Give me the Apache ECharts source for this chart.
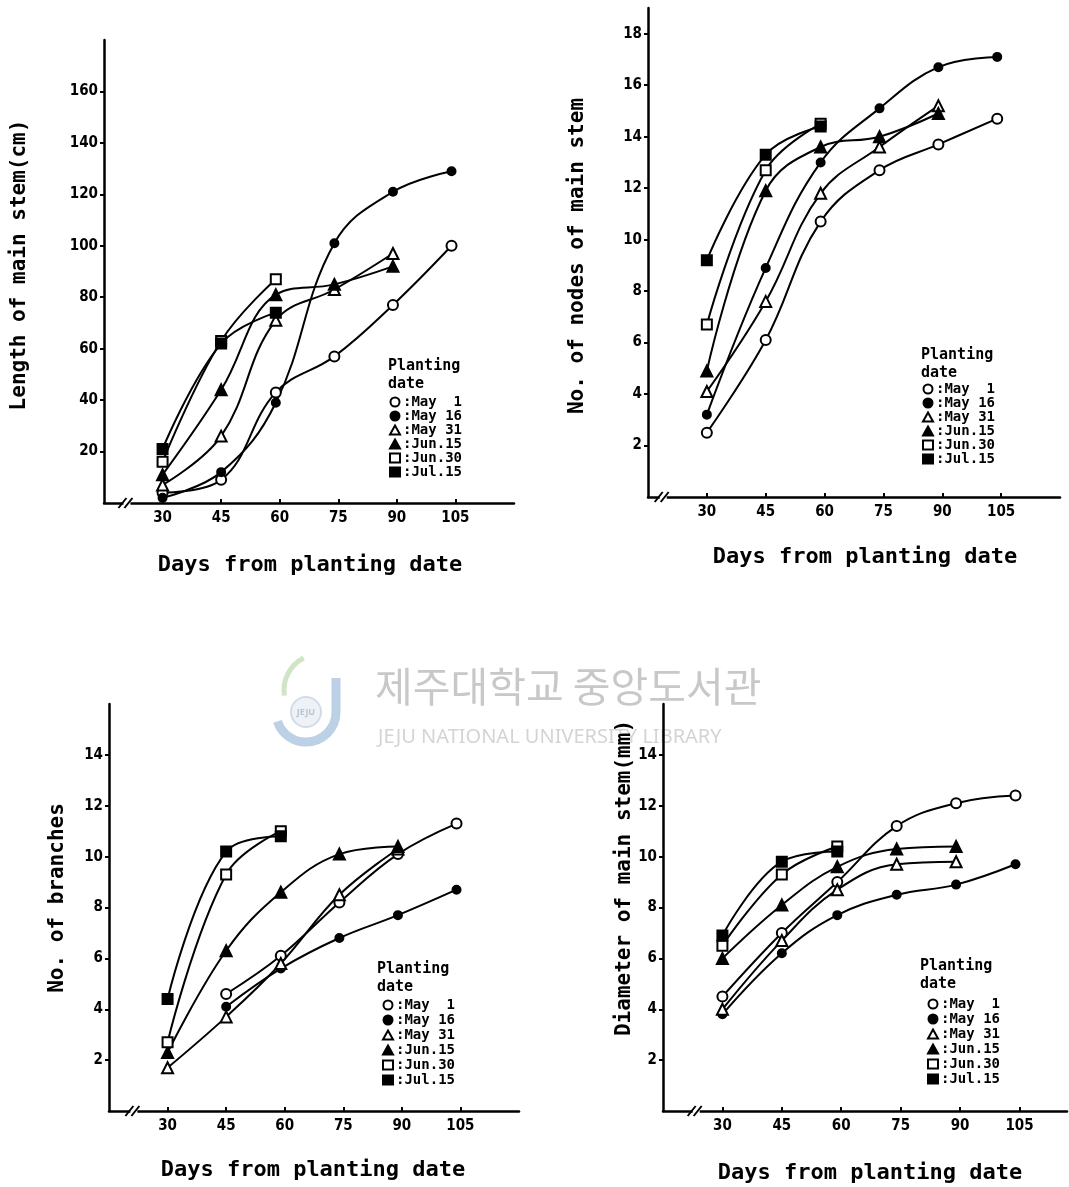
<!DOCTYPE html>
<html><head><meta charset="utf-8">
<script src="https://cdn.jsdelivr.net/npm/echarts@6/dist/echarts.min.js"></script>
<style>html,body{margin:0;padding:0;background:#fff}#c{width:1069px;height:1187px}</style>
</head><body><div id="c"></div>
<script>
// ---------- data ----------
const days = [30, 45, 59, 74, 89, 104];
const xTickValues = [30, 45, 60, 75, 90, 105];
const seriesNames = ['May 1', 'May 16', 'May 31', 'Jun.15', 'Jun.30', 'Jul.15'];

// Panel 1: Length of main stem (cm)
const lenMay1  = [4, 9, 43, 57, 77, 100];
const lenMay16 = [2, 12, 39, 101, 121, 129];
const lenMay31 = [7, 26, 71, 83, 97];
const lenJun15 = [11, 44, 81, 85, 92];
const lenJun30 = [16, 63, 87];
const lenJul15 = [21, 62, 74];
const lenTicks = [20, 40, 60, 80, 100, 120, 140, 160];

// Panel 2: No. of nodes of main stem
const nodMay1  = [2.5, 6.1, 10.7, 12.7, 13.7, 14.7];
const nodMay16 = [3.2, 8.9, 13.0, 15.1, 16.7, 17.1];
const nodMay31 = [4.1, 7.6, 11.8, 13.6, 15.2];
const nodJun15 = [4.9, 11.9, 13.6, 14.0, 14.9];
const nodJun30 = [6.7, 12.7, 14.5];
const nodJul15 = [9.2, 13.3, 14.4];
const nodTicks = [2, 4, 6, 8, 10, 12, 14, 16, 18];

// Panel 3: No. of branches
const brMay1  = [null, 4.6, 6.1, 8.2, 10.1, 11.3];
const brMay16 = [null, 4.1, 5.6, 6.8, 7.7, 8.7];
const brMay31 = [1.7, 3.7, 5.8, 8.5, 10.3];
const brJun15 = [2.3, 6.3, 8.6, 10.1, 10.4];
const brJun30 = [2.7, 9.3, 11.0];
const brJul15 = [4.4, 10.2, 10.8];
const brTicks = [2, 4, 6, 8, 10, 12, 14];

// Panel 4: Diameter of main stem (mm)
const diaMay1  = [4.5, 7.0, 9.0, 11.2, 12.1, 12.4];
const diaMay16 = [3.8, 6.2, 7.7, 8.5, 8.9, 9.7];
const diaMay31 = [4.0, 6.7, 8.7, 9.7, 9.8];
const diaJun15 = [6.0, 8.1, 9.6, 10.3, 10.4];
const diaJun30 = [6.5, 9.3, 10.4];
const diaJul15 = [6.9, 9.8, 10.2];
const diaTicks = [2, 4, 6, 8, 10, 12, 14];

const axisTitlesY = ['Length of main stem(cm)', 'No. of nodes of main stem', 'No. of branches', 'Diameter of main stem(mm)'];
const axisTitleX = 'Days from planting date';
const legendTitle = 'Planting\ndate';
const watermarkKo = '제주대학교 중앙도서관';
const watermarkEn = 'JEJU NATIONAL UNIVERSITY LIBRARY';

// ---------- layout / style ----------
const MONO = '"DejaVu Sans Mono"';
const TICKF = '"DejaVu Sans Condensed"';
const grids = [
  {left: 104, top: 40, width: 410, height: 463},
  {left: 648, top: 8, width: 412, height: 489},
  {left: 109, top: 704, width: 410, height: 407},
  {left: 663, top: 704, width: 404, height: 407}
];
const yMax = [180, 19, 16, 16];
const xMax = [120, 120, 120, 117];
const yTickSets = [lenTicks, nodTicks, brTicks, diaTicks];
const panelData = [
  [lenMay1, lenMay16, lenMay31, lenJun15, lenJun30, lenJul15],
  [nodMay1, nodMay16, nodMay31, nodJun15, nodJun30, nodJul15],
  [brMay1, brMay16, brMay31, brJun15, brJun30, brJul15],
  [diaMay1, diaMay16, diaMay31, diaJun15, diaJun30, diaJul15]
];
const sym = {
  'May 1': ['emptyCircle', 10], 'May 16': ['circle', 8], 'May 31': ['emptyTriangle', 11],
  'Jun.15': ['triangle', 11], 'Jun.30': ['emptyRect', 10], 'Jul.15': ['rect', 10]
};
const legendPos = [
  {left: 389, top: 395, gap: 0, lh: 11, tx: 388, ty: 357},
  {left: 922, top: 382, gap: 0, lh: 11.5, tx: 921, ty: 346},
  {left: 382, top: 998, gap: 1, lh: 13, tx: 377, ty: 960},
  {left: 927, top: 997, gap: 1, lh: 13, tx: 920, ty: 957}
];
const yTitlePos = [[20, 265], [578, 256], [58, 898], [625, 878]];
const xTitlePos = [[310, 565], [865, 557], [313, 1170], [870, 1173]];
const breakAt = [21, 19, 21.5, 23.5];

const xAxes = [], yAxes = [], series = [], legends = [], graphics = [];
grids.forEach((g, i) => {
  xAxes.push({
    type: 'value', gridIndex: i, min: 15, max: xMax[i],
    axisLine: {lineStyle: {color: '#000', width: 2.5}},
    axisTick: {inside: true, length: 4, lineStyle: {color: '#000', width: 2}, customValues: xTickValues},
    axisLabel: {customValues: xTickValues, color: '#000', fontFamily: TICKF, fontWeight: 'bold', fontSize: 15, margin: 8},
    splitLine: {show: false}
  });
  yAxes.push({
    type: 'value', gridIndex: i, min: 0, max: yMax[i],
    axisLine: {show: true, lineStyle: {color: '#000', width: 2.5}},
    axisTick: {show: true, inside: false, length: 4, lineStyle: {color: '#000', width: 2}, customValues: yTickSets[i]},
    axisLabel: {customValues: yTickSets[i], color: '#000', fontFamily: TICKF, fontWeight: 'bold', fontSize: 15, margin: 6},
    splitLine: {show: false}
  });
  panelData[i].forEach((vals, k) => {
    const name = seriesNames[k];
    const data = [];
    vals.forEach((v, j) => { if (v != null) data.push([days[j], v]); });
    series.push({
      type: 'line', name: name, xAxisIndex: i, yAxisIndex: i, data: data,
      smooth: 0.4, symbol: sym[name][0], symbolSize: sym[name][1], showAllSymbol: true,
      lineStyle: {color: '#000', width: 2},
      itemStyle: {color: '#000', borderColor: '#000', borderWidth: 2},
      emphasis: {disabled: true}
    });
  });
  const lp = legendPos[i];
  legends.push({
    orient: 'vertical', left: lp.left, top: lp.top, padding: 0, itemGap: lp.gap,
    itemWidth: 10, itemHeight: 9, selectedMode: false,
    data: seriesNames.map(n => ({name: n, icon: sym[n][0]})),
    formatter: n => ':' + (n.length < 6 ? n.replace(' ', '  ') : n),
    textStyle: {color: '#000', fontFamily: MONO, fontWeight: 'bold', fontSize: 14, lineHeight: lp.lh, padding: [0, 0, 0, -2]}
  });
  graphics.push({
    type: 'text', left: lp.tx, top: lp.ty,
    style: {text: legendTitle, font: 'bold 15px ' + MONO, fill: '#000', lineHeight: 18}
  });
  graphics.push({
    type: 'text', x: yTitlePos[i][0], y: yTitlePos[i][1], rotation: Math.PI / 2,
    style: {text: axisTitlesY[i], font: 'bold 21px ' + MONO, fill: '#000', align: 'center', verticalAlign: 'middle'}
  });
  graphics.push({
    type: 'text', x: xTitlePos[i][0], y: xTitlePos[i][1],
    style: {text: axisTitleX, font: 'bold 22px ' + MONO, fill: '#000', align: 'center', verticalAlign: 'middle'}
  });
});

// library watermark
graphics.push({type: 'arc', z: -2, shape: {cx: 306, cy: 712, r: 30, startAngle: 0, endAngle: Math.PI * 0.9},
  style: {fill: 'none', stroke: '#bcd0e6', lineWidth: 9}});
graphics.push({type: 'line', z: -2, shape: {x1: 336, y1: 712, x2: 336, y2: 678},
  style: {stroke: '#bcd0e6', lineWidth: 9}});
graphics.push({type: 'arc', z: -2, shape: {cx: 320, cy: 690, r: 36, startAngle: Math.PI * 0.95, endAngle: Math.PI * 1.35},
  style: {fill: 'none', stroke: '#cfe5c6', lineWidth: 5}});
graphics.push({type: 'circle', z: -2, shape: {cx: 306, cy: 712, r: 15},
  style: {fill: '#eef2f7', stroke: '#d3dce8', lineWidth: 2}});
graphics.push({type: 'text', x: 306, y: 712, z: -1,
  style: {text: 'JEJU', font: 'bold 9px "Noto Sans"', fill: '#b8c4d4', align: 'center', verticalAlign: 'middle'}});
graphics.push({type: 'text', left: 375, top: 666, z: -1,
  style: {text: watermarkKo, font: '41px "Noto Sans CJK KR"', fill: '#c8c8c8'}});
graphics.push({type: 'text', left: 378, top: 727, z: -1,
  style: {text: watermarkEn, font: '20px "Noto Sans"', fill: '#d4d4d4'}});

const chart = echarts.init(document.getElementById('c'));
chart.setOption({
  animation: false, backgroundColor: '#fff',
  grid: grids, xAxis: xAxes, yAxis: yAxes, series: series, legend: legends, graphic: graphics
});

// axis-break marks "//"
const breaks = [];
grids.forEach((g, i) => {
  const p = chart.convertToPixel({gridIndex: i}, [breakAt[i], 0]);
  breaks.push({type: 'rect', z: 10, shape: {x: p[0] - 4, y: p[1] - 3, width: 7, height: 6}, style: {fill: '#fff'}});
  breaks.push({type: 'line', z: 11, shape: {x1: p[0] - 9, y1: p[1] + 5, x2: p[0] - 1, y2: p[1] - 5}, style: {stroke: '#000', lineWidth: 2}});
  breaks.push({type: 'line', z: 11, shape: {x1: p[0] - 3, y1: p[1] + 5, x2: p[0] + 5, y2: p[1] - 5}, style: {stroke: '#000', lineWidth: 2}});
});
chart.setOption({graphic: graphics.concat(breaks)});
</script>
</body></html>
